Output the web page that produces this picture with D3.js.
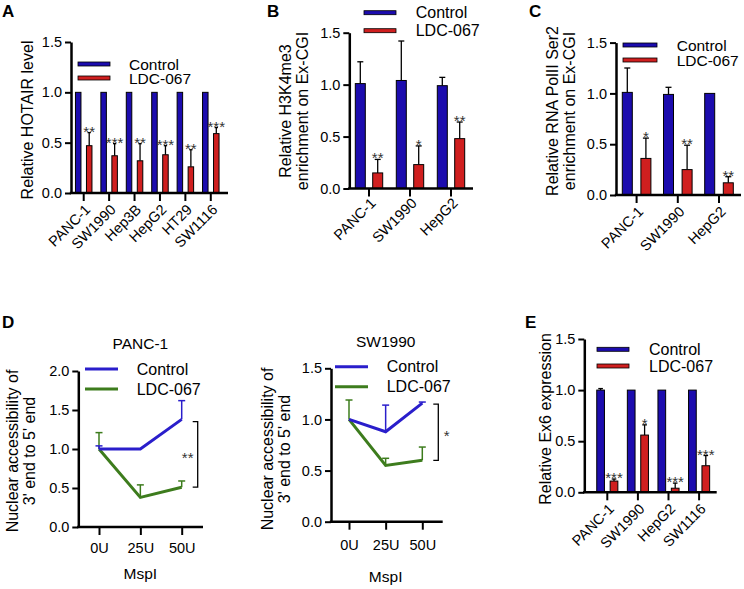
<!DOCTYPE html>
<html><head><meta charset="utf-8">
<script src="https://cdn.jsdelivr.net/npm/d3@7"></script>
<style>body{margin:0;background:#fff}svg{display:block}</style>
</head><body>
<script>
// ---------------- DATA ----------------
const seriesNames = ["Control", "LDC-067"];
const yTicks15 = [0, 0.5, 1.0, 1.5];
const yTicks20 = [0, 0.5, 1.0, 1.5, 2.0];

const catsA = ["PANC-1","SW1990","Hep3B","HepG2","HT29","SW1116"];
const ctrlA = [1,1,1,1,1,1];
const ctrlErrA = [0,0,0,0,0,0];
const ldcA = [0.47,0.37,0.32,0.38,0.26,0.59];
const ldcErrA = [0.13,0.12,0.17,0.09,0.17,0.06];
const starsA = ["**","***","**","***","**","***"];

const catsB = ["PANC-1","SW1990","HepG2"];
const ctrlB = [1.01,1.04,0.99];
const ctrlErrB = [0.21,0.38,0.08];
const ldcB = [0.15,0.23,0.48];
const ldcErrB = [0.13,0.18,0.16];
const starsB = ["**","*","**"];

const catsC = ["PANC-1","SW1990","HepG2"];
const ctrlC = [1.01,0.99,1.0];
const ctrlErrC = [0.24,0.07,0];
const ldcC = [0.36,0.25,0.12];
const ldcErrC = [0.20,0.24,0.06];
const starsC = ["*","**","**"];

const catsE = ["PANC-1","SW1990","HepG2","SW1116"];
const ctrlE = [1,1,1,1];
const ctrlErrE = [0.015,0,0,0];
const ldcE = [0.11,0.56,0.04,0.26];
const ldcErrE = [0.02,0.10,0.05,0.10];
const starsE = ["***","*","***","***"];

const dosesD = ["0U","25U","50U"];
const pancCtrl = [1.0,1.0,1.38];
const pancCtrlErr = [0.04,0,0.24];
const pancLdc = [1.0,0.38,0.51];
const pancLdcErr = [0.21,0.16,0.08];
const pancBracket = [1.35,0.51];
const pancSig = "**";
const swCtrl = [1.0,0.88,1.16];
const swCtrlErr = [0,0.26,0.01];
const swLdc = [1.0,0.55,0.60];
const swLdcErr = [0.19,0.07,0.13];
const swBracket = [1.15,0.60];
const swSig = "*";

// ---------------- STYLE ----------------
const FONT = "'Liberation Sans', Arial, Helvetica, sans-serif";
const BLUE = "#1c0cae", RED = "#d01f1f";
const LBLUE = "#2a1ecb", GREEN = "#3d7c1d";

const svg = d3.select("body").append("svg").attr("width",744).attr("height",589)
  .style("font-family",FONT);

function styleAxis(g){
  g.selectAll("path.domain").attr("stroke","#000").attr("stroke-width",2.5);
  g.selectAll(".tick line").attr("stroke","#000").attr("stroke-width",2);
  g.selectAll(".tick text").attr("fill","#000").style("font-family",FONT);
}

function yAxisTitle(lines, cx, cy, size){
  const t = svg.append("text").attr("transform",`translate(${cx},${cy}) rotate(-90)`)
    .attr("text-anchor","middle").attr("font-size",size||16).attr("fill","#000");
  lines.forEach((l,i)=>{
    t.append("tspan").attr("x",0).attr("y",-(lines.length-1-i)*17).text(l);
  });
}

function panelLabel(txt,x,y){
  svg.append("text").attr("x",x).attr("y",y).attr("font-size",17).attr("font-weight","bold").text(txt);
}

function barPanel(c){
  const y = d3.scaleLinear().domain([0,1.5]).range([c.y0,c.y1]);
  const x = d3.scaleBand().domain(c.cats).range(c.band);
  const off = d3.scalePoint().domain(seriesNames).range([-c.off,c.off]);
  const g = svg.append("g");
  const series = [
    {name:seriesNames[0], vals:c.ctrl, errs:c.ctrlErr, color:BLUE},
    {name:seriesNames[1], vals:c.ldc, errs:c.ldcErr, color:RED}
  ];
  series.forEach(s=>{
    c.cats.forEach((cat,i)=>{
      const cx = x(cat)+x.bandwidth()/2+off(s.name);
      if(s.errs[i]>0){
        g.append("line").attr("x1",cx).attr("x2",cx).attr("y1",y(s.vals[i])).attr("y2",y(s.vals[i]+s.errs[i]))
          .attr("stroke","#000").attr("stroke-width",1.3);
        g.append("line").attr("x1",cx-c.barW*0.3).attr("x2",cx+c.barW*0.3)
          .attr("y1",y(s.vals[i]+s.errs[i])).attr("y2",y(s.vals[i]+s.errs[i]))
          .attr("stroke","#000").attr("stroke-width",1.3);
      }
    });
  });
  series.forEach(s=>{
    g.selectAll(null).data(c.cats).enter().append("rect")
      .attr("x",d=>x(d)+x.bandwidth()/2+off(s.name)-c.barW/2)
      .attr("width",c.barW)
      .attr("y",(d,i)=>y(s.vals[i]))
      .attr("height",(d,i)=>y(0)-y(s.vals[i]))
      .attr("fill",s.color).attr("stroke","#000").attr("stroke-width",1);
  });
  g.selectAll(null).data(c.cats).enter().append("text")
    .attr("x",d=>x(d)+x.bandwidth()/2+off(seriesNames[1]))
    .attr("y",(d,i)=>y(c.ldc[i]+c.ldcErr[i])+4)
    .attr("text-anchor","middle").attr("font-size",15).attr("fill","#333")
    .text((d,i)=>c.stars[i]);
  const ya = svg.append("g").attr("transform",`translate(${c.axisX},0)`)
    .call(d3.axisLeft(y).tickValues(yTicks15).tickFormat(d3.format(".1f")).tickSize(6).tickSizeOuter(0).tickPadding(3));
  styleAxis(ya);
  ya.selectAll(".tick text").attr("font-size",14.5);
  svg.append("line").attr("x1",c.axisX-1.2).attr("x2",c.axisEnd).attr("y1",c.y0).attr("y2",c.y0)
    .attr("stroke","#000").attr("stroke-width",2.5);
  const xa = svg.append("g").attr("transform",`translate(0,${c.y0})`)
    .call(d3.axisBottom(x).tickSize(8).tickSizeOuter(0));
  xa.select("path.domain").remove();
  styleAxis(xa);
  xa.selectAll(".tick text").attr("font-size",14.5).attr("x",0).attr("y",0).attr("dy","0.35em")
    .attr("text-anchor","end").attr("transform",`translate(${c.lblDx},${c.lblDy}) rotate(-45)`);
  const lg = svg.append("g");
  series.forEach((s,i)=>{
    lg.append("rect").attr("x",c.leg.x).attr("y",c.leg.ys[i]-2).attr("width",c.leg.w).attr("height",4)
      .attr("fill",s.color).attr("stroke","#000").attr("stroke-width",0.8);
    lg.append("text").attr("x",c.leg.tx).attr("y",c.leg.ys[i]+5.5).attr("font-size",c.leg.fs||16).attr("fill","#000").text(s.name);
  });
}

function linePanel(c){
  const y = d3.scaleLinear().domain([0,c.ymax]).range([c.y0,c.y1]);
  const x = d3.scalePoint().domain(dosesD).range(c.pts);
  const series = [
    {name:seriesNames[1], vals:c.ldc, errs:c.ldcErr, color:GREEN},
    {name:seriesNames[0], vals:c.ctrl, errs:c.ctrlErr, color:LBLUE}
  ];
  const line = d3.line().x((d,i)=>x(dosesD[i])).y(d=>y(d));
  series.forEach(s=>{
    dosesD.forEach((d,i)=>{
      if(s.errs[i]>0){
        const cx = x(d), yt = y(s.vals[i]+s.errs[i]);
        svg.append("line").attr("x1",cx).attr("x2",cx).attr("y1",y(s.vals[i])).attr("y2",yt)
          .attr("stroke",s.color).attr("stroke-width",1.5);
        svg.append("line").attr("x1",cx-3.5).attr("x2",cx+3.5).attr("y1",yt).attr("y2",yt)
          .attr("stroke",s.color).attr("stroke-width",1.5);
      }
    });
  });
  series.forEach(s=>{
    svg.append("path").datum(s.vals).attr("d",line).attr("fill","none")
      .attr("stroke",s.color).attr("stroke-width",3).attr("stroke-linejoin","miter");
  });
  const bx = c.bracketX, b1 = y(c.bracket[0]), b2 = y(c.bracket[1]);
  svg.append("path").attr("d",`M${bx-5},${b1}H${bx}V${b2}H${bx-5}`).attr("fill","none")
    .attr("stroke","#000").attr("stroke-width",1.3);
  svg.append("text").attr("x",c.sigX).attr("y",(b1+b2)/2+c.sigDy).attr("text-anchor","middle")
    .attr("font-size",15).attr("fill","#333").text(c.sig);
  const ya = svg.append("g").attr("transform",`translate(${c.axisX},0)`)
    .call(d3.axisLeft(y).tickValues(c.ticks).tickFormat(d3.format(".1f")).tickSize(6).tickSizeOuter(0).tickPadding(3));
  styleAxis(ya);
  ya.selectAll(".tick text").attr("font-size",14.5);
  svg.append("line").attr("x1",c.axisX-1.2).attr("x2",c.axisEnd).attr("y1",c.y0).attr("y2",c.y0)
    .attr("stroke","#000").attr("stroke-width",2.5);
  const xa = svg.append("g").attr("transform",`translate(0,${c.y0})`)
    .call(d3.axisBottom(x).tickSize(8).tickSizeOuter(0).tickPadding(10));
  xa.select("path.domain").remove();
  styleAxis(xa);
  xa.selectAll(".tick text").attr("font-size",14.5).attr("y",c.tickLblY).attr("dy",0);
  svg.append("text").attr("x",(c.pts[0]+c.pts[1])/2).attr("y",c.titleY).attr("text-anchor","middle")
    .attr("font-size",15.5).text(c.title);
  svg.append("text").attr("x",(c.pts[0]+c.pts[1])/2).attr("y",c.xTitleY).attr("text-anchor","middle")
    .attr("font-size",15.5).text("MspI");
  series.slice().reverse().forEach((s,i)=>{
    svg.append("line").attr("x1",c.leg.x).attr("x2",c.leg.x+c.leg.w).attr("y1",c.leg.ys[i]).attr("y2",c.leg.ys[i])
      .attr("stroke",s.color).attr("stroke-width",3);
    svg.append("text").attr("x",c.leg.tx).attr("y",c.leg.ys[i]+5.5).attr("font-size",16).text(s.name);
  });
}

// ---------------- PANELS ----------------
panelLabel("A",2,17);
barPanel({cats:catsA, ctrl:ctrlA, ctrlErr:ctrlErrA, ldc:ldcA, ldcErr:ldcErrA, stars:starsA,
  axisX:71, y0:193, y1:42, band:[71,223.5], axisEnd:228, off:5.5, barW:5.5, lblDx:4, lblDy:14,
  leg:{x:78, w:32, ys:[64,78], tx:129, fs:15.5}});
yAxisTitle(["Relative HOTAIR level"],33,120);

panelLabel("B",267,17);
barPanel({cats:catsB, ctrl:ctrlB, ctrlErr:ctrlErrB, ldc:ldcB, ldcErr:ldcErrB, stars:starsB,
  axisX:349.3, y0:188.5, y1:32.7, band:[348.5,471.5], axisEnd:473, off:8.7, barW:10, lblDx:4, lblDy:12,
  leg:{x:364, w:32, ys:[12.7,30.7], tx:415.7}});
yAxisTitle(["Relative H3K4me3","enrichment on Ex-CGI"],308,111);

panelLabel("C",529,17);
barPanel({cats:catsC, ctrl:ctrlC, ctrlErr:ctrlErrC, ldc:ldcC, ldcErr:ldcErrC, stars:starsC,
  axisX:616, y0:195, y1:42.6, band:[616,739.6], axisEnd:741, off:9.3, barW:10, lblDx:4, lblDy:14,
  leg:{x:623, w:34, ys:[45,60], tx:676.7, fs:15.5}});
yAxisTitle(["Relative RNA PolII Ser2","enrichment on Ex-CGI"],575,111);

panelLabel("D",2,328);
linePanel({ctrl:pancCtrl, ctrlErr:pancCtrlErr, ldc:pancLdc, ldcErr:pancLdcErr, bracket:pancBracket, sig:pancSig,
  ymax:2.0, ticks:yTicks20, axisX:78.3, y0:527, y1:371, pts:[99,181.7], axisEnd:203,
  bracketX:197.7, sigX:187.7, sigDy:9, tickLblY:26, title:"PANC-1", titleY:349, xTitleY:579,
  leg:{x:85, w:33, ys:[369,389], tx:136.7}});
yAxisTitle(["Nuclear accessibility of","3' end to 5' end"],35,451);

linePanel({ctrl:swCtrl, ctrlErr:swCtrlErr, ldc:swLdc, ldcErr:swLdcErr, bracket:swBracket, sig:swSig,
  ymax:1.5, ticks:yTicks15, axisX:331, y0:521.7, y1:368.3, pts:[349,422.3], axisEnd:442.7,
  bracketX:438.3, sigX:446.7, sigDy:9, tickLblY:28, title:"SW1990", titleY:347, xTitleY:582,
  leg:{x:335, w:33, ys:[366.7,386.7], tx:386.7}});
yAxisTitle(["Nuclear accessibility of","3' end to 5' end"],290,449);

panelLabel("E",525,328);
barPanel({cats:catsE, ctrl:ctrlE, ctrlErr:ctrlErrE, ldc:ldcE, ldcErr:ldcErrE, stars:starsE,
  axisX:584.3, y0:492.3, y1:339, band:[592,714.4], axisEnd:716.7, off:6.7, barW:7.7, lblDx:4, lblDy:14,
  leg:{x:597, w:32, ys:[349.3,366], tx:649}});
yAxisTitle(["Relative Ex6 expression"],551,419);
</script>
</body></html>
